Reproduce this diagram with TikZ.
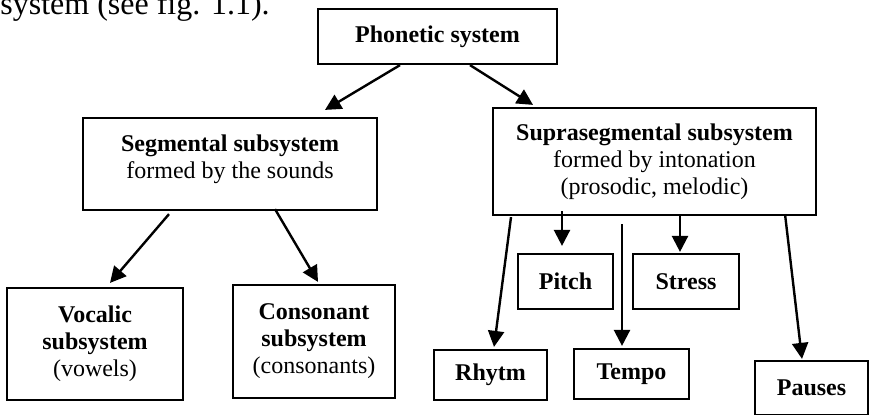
\documentclass[tikz,border=0pt]{standalone}
\usepackage{fontspec}
\setmainfont{Liberation Serif}
\usepackage{tikz}
\usetikzlibrary{arrows.meta,calc}

\begin{document}
\begin{tikzpicture}[
   x=0.5pt, y=-0.5pt,
   box/.style={rectangle, draw=black, line width=1.1pt, align=center,
               inner sep=0pt, font=\fontsize{12pt}{13.5pt}\selectfont},
   arr/.style={-{Triangle[length=8pt, width=8pt]}, line width=1.2pt}
]
\useasboundingbox (0,0) rectangle (870,414);
% running text above the figure
\node[anchor=base west, inner sep=0pt, font=\fontsize{16pt}{19pt}\selectfont] (caption) at (0,14)
     {system (see fig. 1.1).};
% top level
\node[box, minimum width=119.5pt, minimum height=27.5pt] (phon) at (437.5,36.5)
     {\textbf{Phonetic system}};
% subsystems
\node[box, minimum width=147pt, minimum height=46pt, text depth=7pt] (seg) at (230,164)
     {\textbf{Segmental subsystem}\\formed by the sounds};
\node[box, minimum width=161.5pt, minimum height=53.5pt] (supra) at (654.5,161.5)
     {\textbf{Suprasegmental subsystem}\\formed by intonation\\(prosodic, melodic)};
% segmental units
\node[box, minimum width=88pt, minimum height=56pt] (vocalic) at (95,344)
     {\textbf{Vocalic}\\\textbf{subsystem}\\(vowels)};
\node[box, minimum width=81pt, minimum height=56.5pt] (consonant) at (314,341.5)
     {\textbf{Consonant}\\\textbf{subsystem}\\(consonants)};
% suprasegmental units
\node[box, minimum width=47.5pt, minimum height=27.5pt] (pitch) at (565.5,281.5) {\textbf{Pitch}};
\node[box, minimum width=53pt, minimum height=27.5pt] (stress) at (686,281.5) {\textbf{Stress}};
\node[box, minimum width=56.5pt, minimum height=25pt] (rhytm) at (490.5,375) {\textbf{Rhytm}};
\node[box, minimum width=57.5pt, minimum height=25pt] (tempo) at (631.5,374) {\textbf{Tempo}};
\node[box, minimum width=56.5pt, minimum height=27pt] (pauses) at (811.5,388) {\textbf{Pauses}};

\draw[arr] ($(phon.south)+(-37.5,0)$) -- ($(seg.north)+(95,-7)$);
\draw[arr] ($(phon.south)+(32.5,0)$) -- ($(supra.north)+(-121.5,-2)$);

\draw[arr] ($(seg.south)+(-61,3)$) -- ($(vocalic.north)+(15,-4)$);
\draw[arr] ($(seg.south)+(45,-2)$) -- ($(consonant.north)+(4,-2)$);

\draw[arr] ($(supra.south)+(-143.5,1)$) -- ($(rhytm.north)+(3.5,-2)$);
\draw[arr] ($(supra.south)+(-92.5,-5)$) -- ($(pitch.north)+(-3.5,-7)$);
\coordinate (tempotop) at ($(supra.south)+(-32.5,8)$);
\draw[arr] (tempotop) -- ($(tempo.north)+(-9.5,-2)$);
\draw[arr] ($(supra.south)+(25.5,0)$) -- ($(stress.north)+(-6,-1)$);
\draw[arr] ($(supra.south)+(130.5,-2)$) -- ($(pauses.north)+(-9.5,-1)$);
\end{tikzpicture}
\end{document}
